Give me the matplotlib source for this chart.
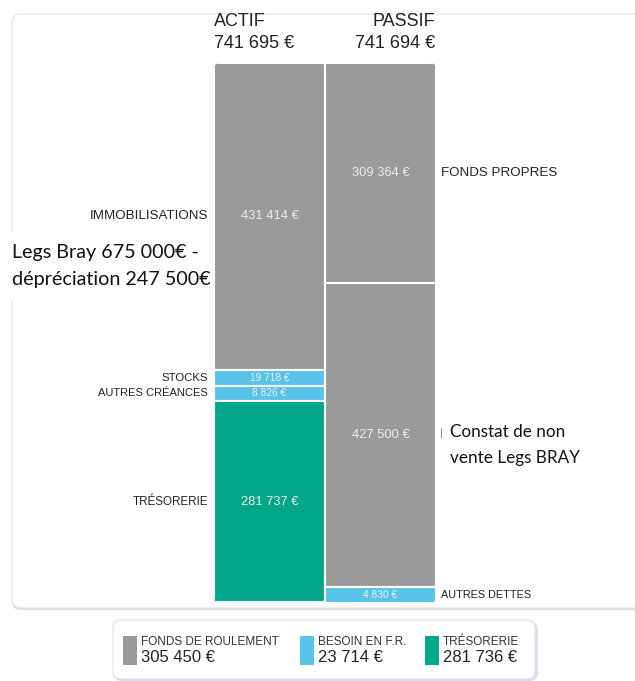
import matplotlib
matplotlib.use("Agg")
import matplotlib.pyplot as plt
from matplotlib.patches import FancyBboxPatch, Rectangle

# ---------------- data ----------------
actif_title = "ACTIF"
passif_title = "PASSIF"
actif_total_label = "741 695 €"
passif_total_label = "741 694 €"

actif_labels = ["IMMOBILISATIONS", "STOCKS", "AUTRES CRÉANCES", "TRÉSORERIE"]
actif_values = [431414, 19718, 8826, 281737]
actif_colors = ["#9a9a9a", "#58c4ea", "#58c4ea", "#00a889"]

passif_labels = ["FONDS PROPRES", "", "AUTRES DETTES"]
passif_values = [309364, 427500, 4830]
passif_colors = ["#9a9a9a", "#9a9a9a", "#58c4ea"]

legend_titles = ["FONDS DE ROULEMENT", "BESOIN EN F.R.", "TRÉSORERIE"]
legend_values = ["305 450 €", "23 714 €", "281 736 €"]
legend_colors = ["#9a9a9a", "#58c4ea", "#00a889"]

note_left = "Legs Bray 675 000€ -\ndépréciation 247 500€"
note_right = "Constat de non\nvente Legs BRAY"

MIN_DISPLAY = 22000  # small segments are shown with a minimum height

# label font sizes (style, not data)
actif_label_sizes = [9.6, 8.2, 8.0, 8.4]
passif_label_sizes = [9.6, 9.0, 7.8]


def fmt(v):
    return f"{v:,}".replace(",", " ") + " €"


SANS = "Liberation Sans"
NOTE = "Lato"

W, H = 635, 681
fig = plt.figure(figsize=(W / 100, H / 100), dpi=100)
fig.patch.set_facecolor("white")

# background overlay in pixel coordinates
bg = fig.add_axes([0, 0, 1, 1], zorder=0)
bg.set_xlim(0, W)
bg.set_ylim(H, 0)
bg.axis("off")

# card with soft shadow
for i, c in enumerate(["#ececf6", "#dcdcee"]):
    bg.add_patch(FancyBboxPatch((12, 16 + i), 700, 594 - i, boxstyle="round,pad=0,rounding_size=9",
                                facecolor=c, edgecolor="none"))
bg.add_patch(FancyBboxPatch((12, 14), 700, 594, boxstyle="round,pad=0,rounding_size=9",
                            facecolor="white", edgecolor="#e4e4e4", linewidth=0.8))

# legend box with shadow
bg.add_patch(FancyBboxPatch((114, 622), 424, 59, boxstyle="round,pad=0,rounding_size=8",
                            facecolor="#dcdcec", edgecolor="none"))
bg.add_patch(FancyBboxPatch((113, 620), 422, 59, boxstyle="round,pad=0,rounding_size=8",
                            facecolor="white", edgecolor="#e2e2e2", linewidth=0.8))
legend_x = [123, 300, 425]
for x, t, v, c in zip(legend_x, legend_titles, legend_values, legend_colors):
    bg.add_patch(Rectangle((x, 636), 14, 29, facecolor=c, edgecolor="none"))
    bg.text(x + 18, 642, t, fontsize=8.5, family=SANS, color="#333333", va="center", ha="left")
    bg.text(x + 18, 657, v, fontsize=12, family=SANS, color="#222222", va="center", ha="left")

# headers
bg.text(214, 22, actif_title, fontsize=13, family=SANS, color="#222222", ha="left", va="center")
bg.text(214, 43, actif_total_label, fontsize=13, family=SANS, color="#222222", ha="left", va="center")
bg.text(435, 22, passif_title, fontsize=13, family=SANS, color="#222222", ha="right", va="center")
bg.text(435, 43, passif_total_label, fontsize=13, family=SANS, color="#222222", ha="right", va="center")

# notes
bg.add_patch(Rectangle((5, 232), 205, 68, facecolor="white", edgecolor="none"))
bg.text(12, 266, note_left, fontsize=14.2, family=NOTE, color="#111111", ha="left", va="center",
        linespacing=1.65)
bg.plot([441, 441], [428, 437], color="#999999", lw=0.8)
bg.text(450, 445, note_right, fontsize=12.3, family=NOTE, color="#111111", ha="left", va="center",
        linespacing=1.8)

# ---------------- bars ----------------
left, right, top, bottom = 214, 436, 63, 603
ax = fig.add_axes([left / W, 1 - bottom / H, (right - left) / W, (bottom - top) / H], zorder=2)
ax.axis("off")

clip = FancyBboxPatch((left, top), right - left, bottom - top, boxstyle="round,pad=0,rounding_size=6",
                      transform=bg.transData, facecolor="none", edgecolor="none")


def disp(vals):
    return [max(v, MIN_DISPLAY) for v in vals]


a_disp = disp(actif_values)
p_disp = disp(passif_values)
ymax = max(sum(a_disp), sum(p_disp))
ax.set_xlim(-0.5, 1.5)
ax.set_ylim(ymax, 0)


def draw_stack(x, vals, dvals, colors, labels, sizes, side):
    base = 0
    for v, d, c, lab, fs in zip(vals, dvals, colors, labels, sizes):
        bars = ax.bar(x, d, bottom=base, width=1.0, color=c, edgecolor="white", linewidth=1.5)
        for b in bars:
            b.set_clip_path(clip)
        mid = base + d / 2
        small = v < MIN_DISPLAY * 1.5
        ax.text(x, mid, fmt(v), ha="center", va="center", color="#ececec",
                fontsize=7.3 if small else 9.3, family=SANS)
        if lab:
            if side == "left":
                ax.annotate(lab, (x - 0.5, mid), xytext=(-6, 0), textcoords="offset pixels",
                            ha="right", va="center", fontsize=fs, family=SANS, color="#222222")
            else:
                ax.annotate(lab, (x + 0.5, mid), xytext=(5, 0), textcoords="offset pixels",
                            ha="left", va="center", fontsize=fs, family=SANS, color="#222222")
        base += d


draw_stack(0, actif_values, a_disp, actif_colors, actif_labels, actif_label_sizes, "left")
draw_stack(1, passif_values, p_disp, passif_colors, passif_labels, passif_label_sizes, "right")

fig.savefig("out.png", dpi=100, facecolor="white")
